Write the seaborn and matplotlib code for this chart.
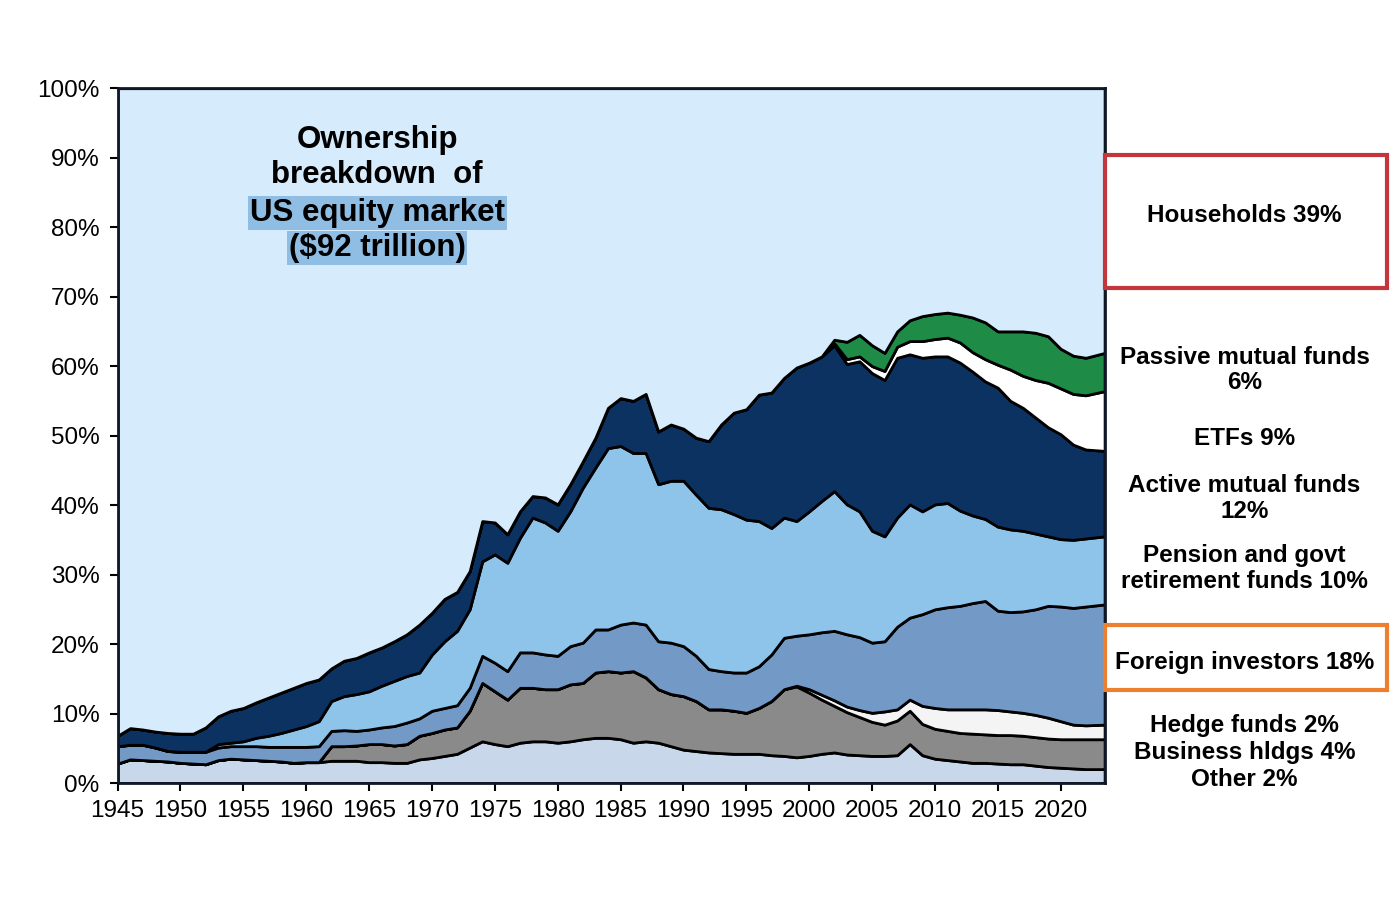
import matplotlib
matplotlib.use("Agg")
import matplotlib.pyplot as plt
from matplotlib.patches import Rectangle
from matplotlib.ticker import PercentFormatter
import numpy as np
import seaborn as sns

# Ownership shares of US equity market (% of total), annual, last point = mid 2023
years = list(range(1945, 2023)) + [2023.5]

other = [2.8, 3.4, 3.3, 3.2, 3.1, 2.9, 2.8, 2.7, 3.3, 3.5,
         3.4, 3.3, 3.2, 3.1, 2.9, 3.0, 3.0, 3.2, 3.2, 3.2,
         3.0, 3.0, 2.9, 2.9, 3.4, 3.6, 3.9, 4.2, 5.1, 6.0,
         5.6, 5.3, 5.8, 6.0, 6.0, 5.8, 6.0, 6.3, 6.5, 6.5,
         6.3, 5.8, 6.0, 5.8, 5.3, 4.8, 4.6, 4.4, 4.3, 4.2,
         4.2, 4.2, 4.0, 3.9, 3.7, 3.9, 4.2, 4.4, 4.1, 4.0,
         3.9, 3.9, 4.0, 5.6, 4.0, 3.5, 3.3, 3.1, 2.9, 2.9,
         2.8, 2.7, 2.7, 2.5, 2.3, 2.2, 2.1, 2.0, 2.0]

business = [0, 0, 0, 0, 0, 0, 0, 0, 0, 0,
            0, 0, 0, 0, 0, 0, 0, 2.1, 2.1, 2.2,
            2.6, 2.6, 2.5, 2.7, 3.4, 3.6, 3.8, 3.8, 5.3, 8.4,
            7.6, 6.7, 7.9, 7.7, 7.5, 7.7, 8.2, 8.1, 9.4, 9.6,
            9.6, 10.3, 9.2, 7.7, 7.5, 7.7, 7.2, 6.2, 6.3, 6.2,
            5.9, 6.6, 7.8, 9.6, 10.2, 9.1, 7.8, 6.7, 6.1, 5.5,
            4.9, 4.5, 5.0, 4.8, 4.5, 4.3, 4.2, 4.1, 4.2, 4.1,
            4.1, 4.2, 4.1, 4.1, 4.1, 4.1, 4.2, 4.3, 4.3]

hedge = [0, 0, 0, 0, 0, 0, 0, 0, 0, 0,
         0, 0, 0, 0, 0, 0, 0, 0, 0, 0,
         0, 0, 0, 0, 0, 0, 0, 0, 0, 0,
         0, 0, 0, 0, 0, 0, 0, 0, 0, 0,
         0, 0, 0, 0, 0, 0, 0, 0, 0, 0,
         0, 0, 0, 0, 0.1, 0.5, 0.7, 0.8, 0.8, 1.0,
         1.3, 1.9, 1.6, 1.6, 2.6, 3.0, 3.1, 3.4, 3.5, 3.6,
         3.6, 3.4, 3.3, 3.2, 3.0, 2.6, 2.1, 2.0, 2.1]

foreign = [2.5, 2.1, 2.2, 1.9, 1.5, 1.6, 1.7, 1.8, 1.8, 1.8,
           1.9, 2.0, 2.0, 2.1, 2.3, 2.2, 2.3, 2.2, 2.3, 2.1,
           2.1, 2.4, 2.8, 3.1, 2.5, 3.2, 3.1, 3.2, 3.3, 3.9,
           4.1, 4.1, 5.1, 5.1, 5.0, 4.8, 5.5, 5.8, 6.2, 6.0,
           6.9, 7.0, 7.6, 6.9, 7.4, 7.2, 6.5, 5.8, 5.5, 5.5,
           5.8, 6.0, 6.7, 7.4, 7.2, 7.9, 9.0, 10.0, 10.4, 10.5,
           10.1, 10.1, 11.9, 11.8, 13.2, 14.2, 14.7, 14.9, 15.3, 15.6,
           14.3, 14.3, 14.6, 15.2, 16.1, 16.5, 16.8, 17.1, 17.3]

pension = [0, 0, 0, 0, 0, 0, 0, 0, 0.5, 0.5,
           0.7, 1.2, 1.6, 2.0, 2.5, 3.0, 3.6, 4.3, 4.9, 5.3,
           5.5, 6.0, 6.5, 6.7, 6.6, 8.1, 9.6, 10.7, 11.3, 13.6,
           15.6, 15.6, 16.5, 19.4, 19.0, 18.0, 19.4, 22.3, 23.3, 26.1,
           25.7, 24.4, 24.7, 22.6, 23.3, 23.8, 23.2, 23.2, 23.3, 22.8,
           22.0, 20.9, 18.2, 17.3, 16.5, 17.7, 18.9, 20.1, 18.7, 18.1,
           16.1, 15.1, 15.7, 16.3, 14.8, 15.1, 15.0, 13.7, 12.6, 11.8,
           12.1, 11.9, 11.6, 10.9, 10.0, 9.7, 9.8, 9.8, 9.8]

active = [1.5, 2.4, 2.2, 2.3, 2.6, 2.6, 2.6, 3.5, 4.0, 4.6,
          4.8, 5.1, 5.5, 5.8, 6.0, 6.2, 6.0, 4.7, 5.1, 5.2,
          5.6, 5.5, 5.7, 6.0, 6.9, 6.0, 6.1, 5.6, 5.5, 5.8,
          4.6, 4.1, 3.8, 3.1, 3.6, 3.8, 3.9, 3.8, 4.3, 5.8,
          6.9, 7.5, 8.5, 7.6, 8.1, 7.5, 8.2, 9.6, 12.2, 14.6,
          15.9, 18.2, 19.5, 20.1, 22.1, 21.4, 20.8, 21.0, 20.2, 21.6,
          22.7, 22.5, 23.0, 21.6, 22.1, 21.3, 21.1, 21.3, 20.7, 19.8,
          20.0, 18.5, 17.7, 16.7, 15.7, 15.1, 13.7, 12.8, 12.3]

etf = [0, 0, 0, 0, 0, 0, 0, 0, 0, 0,
       0, 0, 0, 0, 0, 0, 0, 0, 0, 0,
       0, 0, 0, 0, 0, 0, 0, 0, 0, 0,
       0, 0, 0, 0, 0, 0, 0, 0, 0, 0,
       0, 0, 0, 0, 0, 0, 0, 0, 0, 0,
       0, 0, 0, 0, 0, 0, 0, 0.3, 0.7, 0.7,
       1.0, 1.3, 1.6, 1.9, 2.4, 2.5, 2.7, 2.9, 2.8, 3.2,
       3.3, 4.5, 4.6, 5.4, 6.4, 6.6, 7.3, 7.8, 8.6]

passive = [0, 0, 0, 0, 0, 0, 0, 0, 0, 0,
           0, 0, 0, 0, 0, 0, 0, 0, 0, 0,
           0, 0, 0, 0, 0, 0, 0, 0, 0, 0,
           0, 0, 0, 0, 0, 0, 0, 0, 0, 0,
           0, 0, 0, 0, 0, 0, 0, 0, 0, 0,
           0, 0, 0, 0, 0, 0, 0, 0.5, 2.5, 3.1,
           3.0, 2.6, 2.2, 3.0, 3.6, 3.6, 3.6, 4.0, 5.0, 5.3,
           4.8, 5.5, 6.4, 6.8, 6.7, 5.7, 5.5, 5.4, 5.5]

# households hold the remainder
households = 100 - np.sum([other, business, hedge, foreign, pension,
                           active, etf, passive], axis=0)

colors = ["#c8d7ea", "#8a8a8a", "#f4f4f4", "#7399c6", "#8ec3ea",
          "#0c3262", "#ffffff", "#1e8c46", "#d6ebfb"]

right_labels = ["Passive mutual funds\n6%", "ETFs 9%", "Active mutual funds\n12%",
                "Pension and govt\nretirement funds 10%"]
right_label_y = [0.589, 0.513, 0.446, 0.368]

sns.set_theme(style="ticks")
plt.rcParams["font.family"] = ["Liberation Sans", "DejaVu Sans"]
plt.rcParams["text.color"] = "black"

fig = plt.figure(figsize=(14, 9), dpi=100)
ax = fig.add_axes([0.084, 0.13, 0.705, 0.772])

ax.stackplot(years, other, business, hedge, foreign, pension, active, etf,
             passive, households, colors=colors, edgecolor="black", linewidth=2)

ax.set_xlim(1945, 2023.5)
ax.set_ylim(0, 100)
ax.set_xticks(range(1945, 2021, 5))
ax.set_yticks(range(0, 101, 10))
ax.yaxis.set_major_formatter(PercentFormatter(decimals=0))
ax.tick_params(axis="both", direction="out", length=6, width=1.5,
               labelsize=17.5, colors="black")
ax.tick_params(axis="y", pad=7)
ax.tick_params(axis="x", pad=6)
for s in ax.spines.values():
    s.set_linewidth(2)
    s.set_color("#101828")

# title block inside the plot
title_font = dict(fontsize=22.5, fontweight="bold", ha="center", va="center",
                  color="black", transform=ax.transAxes)
ax.text(0.263, 0.925, "Ownership", **title_font)
ax.text(0.263, 0.875, "breakdown  of", **title_font)
hl = dict(boxstyle="square,pad=0.06", facecolor="#8fbde3", edgecolor="none")
ax.text(0.263, 0.820, "US equity market", bbox=hl, **title_font)
ax.text(0.263, 0.770, "($92 trillion)", bbox=hl, **title_font)

# labels on the right
lab_font = dict(fontsize=17.5, fontweight="bold", ha="center", va="center",
                color="black", linespacing=1.15)
fig.patches.append(Rectangle((0.789, 0.680), 0.202, 0.148, fill=False,
                             edgecolor="#c3363c", linewidth=3,
                             transform=fig.transFigure))
fig.text(0.889, 0.761, "Households 39%", **lab_font)
for lab, y in zip(right_labels, right_label_y):
    fig.text(0.889, y, lab, **lab_font)
fig.patches.append(Rectangle((0.789, 0.233), 0.202, 0.073, fill=False,
                             edgecolor="#ec8030", linewidth=3,
                             transform=fig.transFigure))
fig.text(0.889, 0.264, "Foreign investors 18%", **lab_font)
fig.text(0.889, 0.164, "Hedge funds 2%\nBusiness hldgs 4%\nOther 2%",
         **dict(lab_font, linespacing=1.22))

fig.savefig("out.png", dpi=100)
